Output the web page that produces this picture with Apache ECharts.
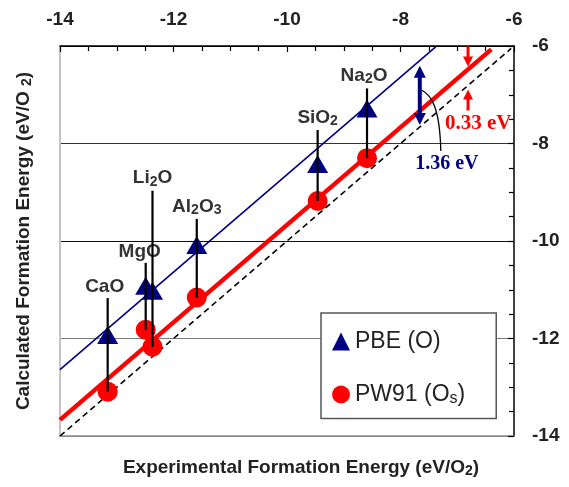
<!DOCTYPE html>
<html>
<head>
<meta charset="utf-8">
<script src="https://cdn.jsdelivr.net/npm/echarts@6/dist/echarts.min.js"></script>
<style>
  html, body { margin: 0; padding: 0; background: #fff; }
  #chart { width: 569px; height: 487px; }
</style>
</head>
<body>
<div id="chart"></div>
<script>
// Oxide formation energies (eV per O2): experiment vs. two GGA calculations
const compounds = ['CaO', 'MgO', 'Li2O', 'Al2O3', 'SiO2', 'Na2O'];
const experimental = [-13.16, -12.49, -12.37, -11.59, -9.46, -8.59];
const pbeO = [-11.93, -10.92, -11.02, -10.08, -8.42, -7.28];
const pw91Os = [-13.09, -11.82, -12.17, -11.16, -9.18, -8.30];

// Mean shifts of the calculated values relative to experiment (eV)
const pbeShift = 1.36;
const pw91Shift = 0.33;

// Experimental ranges spanned by the reference lines
const pbeLineRange = [-14, -7.38];
const pw91LineRange = [-14, -6.4];
const idealLineRange = [-14, -6.05];

// Experimental energies where the shifts are marked
const pbeShiftAt = -7.66;
const pw91ShiftAt = -6.81;

// Axis ticks (both axes share the same range)
const axisTicks = [-14, -12, -10, -8, -6];

// ---- layout and styling ----
const SANS = '"Liberation Sans", Arial, Helvetica, sans-serif';
const SERIF = '"Liberation Serif", "Times New Roman", serif';
const NAVY = '#000080';
const RED = '#ff0000';
const leaderLift = [37, 23, 100, 26, 34, 20];   // px above the triangle
const labelDx = [-3, -6, 0, 0, 0, -3];          // px label nudge

// subscript token: smaller, pushed down by its top padding
const subRich = (size, color, drop) => ({
  s: { fontSize: size, fontWeight: 'bold', fontFamily: SANS, color: color || '#333',
       padding: [drop || 7, 0, 0, 0] }
});
const withSub = (name) => name.replace(/(\d)/g, '{s|$1}');

const lineSeries = (name, range, shift, color, width, type, z) => ({
  name, type: 'line', silent: true, symbol: 'none', z,
  data: range.map((x) => [x, x + shift]),
  lineStyle: { color, width, type },
});

const axisBase = {
  type: 'value',
  min: axisTicks[0],
  max: axisTicks[axisTicks.length - 1],
  interval: axisTicks[1] - axisTicks[0],
};

const chart = echarts.init(document.getElementById('chart'), null, { renderer: 'canvas' });

chart.setOption({
  animation: false,
  backgroundColor: '#fff',
  grid: { left: 60, right: 55, top: 46, bottom: 51 },
  xAxis: [
    Object.assign({}, axisBase, {
      position: 'top',
      axisLine: { lineStyle: { color: '#000', width: 1.5 } },
      axisTick: { inside: true, length: 6, lineStyle: { color: '#000', width: 1.2 } },
      minorTick: { show: true, splitNumber: 4, length: 5, lineStyle: { color: '#000', width: 1.2 } },
      axisLabel: { fontSize: 19, fontWeight: 'bold', color: '#222', fontFamily: SANS, margin: 17 },
      splitLine: { show: false },
    }),
    Object.assign({}, axisBase, {
      position: 'bottom',
      axisLine: { onZero: false, lineStyle: { color: '#8a8a8a', width: 1.5 } },
      axisTick: { show: false },
      axisLabel: { show: false },
      splitLine: { show: false },
      name: 'Experimental Formation Energy (eV/O{s|2})',
      nameLocation: 'middle',
      nameGap: 22,
      nameTextStyle: {
        fontSize: 19, fontWeight: 'bold', color: '#222', fontFamily: SANS,
        padding: [0, 0, 0, 28], rich: subRich(14, '#222', 6),
      },
    }),
  ],
  yAxis: [
    Object.assign({}, axisBase, {
      position: 'right',
      axisLine: { lineStyle: { color: '#000', width: 1.5 } },
      axisTick: { inside: true, length: 6, lineStyle: { color: '#000', width: 1.2 } },
      minorTick: { show: true, splitNumber: 4, length: 5, lineStyle: { color: '#000', width: 1.2 } },
      axisLabel: { fontSize: 19, fontWeight: 'bold', color: '#222', fontFamily: SANS, margin: 18 },
      splitLine: { show: true, lineStyle: { color: ['#8a8a8a', '#7a7a7a', '#111', '#333', '#000'], width: 1.2 } },
    }),
    Object.assign({}, axisBase, {
      position: 'left',
      axisLine: { onZero: false, lineStyle: { color: '#c4c4c4', width: 2 } },
      axisTick: { show: false },
      axisLabel: { show: false },
      splitLine: { show: false },
      name: 'Calculated Formation Energy (eV/O {s|2})',
      nameLocation: 'middle',
      nameRotate: 90,
      nameGap: 26,
      nameTextStyle: {
        fontSize: 19, fontWeight: 'bold', color: '#222', fontFamily: SANS,
        rich: subRich(14, '#222', 6),
      },
    }),
  ],
  legend: {
    orient: 'vertical',
    left: 321,
    top: 313,
    padding: [17, 31, 12, 11],
    itemGap: 30,
    itemWidth: 18,
    itemHeight: 18,
    backgroundColor: '#fff',
    borderColor: '#555',
    borderWidth: 1.5,
    borderRadius: 0,
    data: [
      { name: 'PBE (O)', icon: 'triangle' },
      { name: 'PW91 (Os)', icon: 'circle' },
    ],
    formatter: (name) => (name === 'PW91 (Os)' ? 'PW91 (O{s|s})' : name),
    textStyle: {
      fontSize: 23, color: '#222', fontFamily: SANS,
      rich: { s: { fontSize: 16, color: '#222', fontFamily: SANS, padding: [8, 0, 0, 0] } },
    },
  },
  series: [
    lineSeries('ideal', idealLineRange, 0, '#000', 1.6, [6, 4], 1),
    lineSeries('pw91 fit', pw91LineRange, pw91Shift, RED, 4.5, 'solid', 1),
    lineSeries('pbe fit', pbeLineRange, pbeShift, NAVY, 1.6, 'solid', 1),
    {
      name: 'PBE (O)',
      type: 'scatter',
      symbol: 'triangle',
      symbolSize: [21, 18],
      itemStyle: { color: NAVY, opacity: 1 },
      z: 3,
      data: experimental.map((x, i) => [x, pbeO[i]]),
    },
    {
      name: 'PW91 (Os)',
      type: 'scatter',
      symbol: 'circle',
      symbolSize: 20,
      itemStyle: { color: RED, opacity: 1 },
      z: 3,
      data: experimental.map((x, i) => [x, pw91Os[i]]),
    },
    {
      // leader lines and compound labels
      type: 'custom',
      silent: true,
      z: 5,
      data: compounds.map((c, i) => [experimental[i], pw91Os[i], pbeO[i]]),
      renderItem(params, api) {
        const i = params.dataIndex;
        const base = api.coord([api.value(0), api.value(1)]);
        const tri = api.coord([api.value(0), api.value(2)]);
        const topY = tri[1] - leaderLift[i];
        return {
          type: 'group',
          children: [
            {
              type: 'line',
              shape: { x1: base[0], y1: base[1], x2: base[0], y2: topY },
              style: { stroke: '#000', lineWidth: 2.2 },
            },
            {
              type: 'text',
              style: {
                text: withSub(compounds[i]),
                x: base[0] + labelDx[i],
                y: topY - 2,
                align: 'center',
                verticalAlign: 'bottom',
                fontSize: 19,
                fontWeight: 'bold',
                fontFamily: SANS,
                fill: '#333',
                rich: subRich(14),
              },
            },
          ],
        };
      },
    },
    {
      // shift annotations
      type: 'custom',
      silent: true,
      z: 6,
      data: [[pbeShiftAt, pw91ShiftAt]],
      renderItem(params, api) {
        const xb = api.value(0);
        const xr = api.value(1);
        const bTop = api.coord([xb, xb + pbeShift]);
        const bBot = api.coord([xb, xb]);
        const rTop = api.coord([xr, xr + pw91Shift]);
        const rBot = api.coord([xr, xr]);

        const arrowHead = (x, tipY, dir, w, len, color) => ({
          type: 'polygon',
          shape: { points: [[x, tipY], [x - w / 2, tipY + dir * len], [x + w / 2, tipY + dir * len]] },
          style: { fill: color },
        });

        const bx = bTop[0];
        const bt = bTop[1] + 5;
        const bb = bBot[1] - 2;
        const bm = (bt + bb) / 2;
        const rx = rTop[0];
        const rTipTop = rTop[1] - 3;
        const rTipBot = rBot[1] + 4;

        return {
          type: 'group',
          children: [
            // PBE double arrow
            { type: 'line', shape: { x1: bx, y1: bt + 10, x2: bx, y2: bb - 10 }, style: { stroke: NAVY, lineWidth: 4 } },
            arrowHead(bx, bt, 1, 12, 12, NAVY),
            arrowHead(bx, bb, -1, 12, 12, NAVY),
            // pointer to the PBE label
            {
              type: 'bezierCurve',
              shape: { x1: bx + 2, y1: bm - 5, cpx1: bx + 12, cpy1: bm, cpx2: bx + 20, cpy2: bm + 13, x2: bx + 21, y2: bb + 26 },
              style: { stroke: '#000', lineWidth: 1.3, fill: null },
            },
            {
              type: 'text',
              style: {
                text: pbeShift.toFixed(2) + ' eV',
                x: bx + 27, y: bb + 39, align: 'center', verticalAlign: 'middle',
                fontSize: 20, fontWeight: 'bold', fontFamily: SERIF, fill: NAVY,
              },
            },
            // PW91 pair of arrows
            { type: 'line', shape: { x1: rx, y1: rTipTop - 20, x2: rx, y2: rTipTop - 7 }, style: { stroke: RED, lineWidth: 3 } },
            arrowHead(rx, rTipTop, -1, 10, 10, RED),
            { type: 'line', shape: { x1: rx, y1: rTipBot + 21, x2: rx, y2: rTipBot + 7 }, style: { stroke: RED, lineWidth: 3 } },
            arrowHead(rx, rTipBot, 1, 10, 10, RED),
            {
              type: 'text',
              style: {
                text: pw91Shift.toFixed(2) + ' eV',
                x: rx - 23, y: rBot[1] + 38, align: 'left', verticalAlign: 'middle',
                fontSize: 21, fontWeight: 'bold', fontFamily: SERIF, fill: RED,
              },
            },
          ],
        };
      },
    },
  ],
});
</script>
</body>
</html>
